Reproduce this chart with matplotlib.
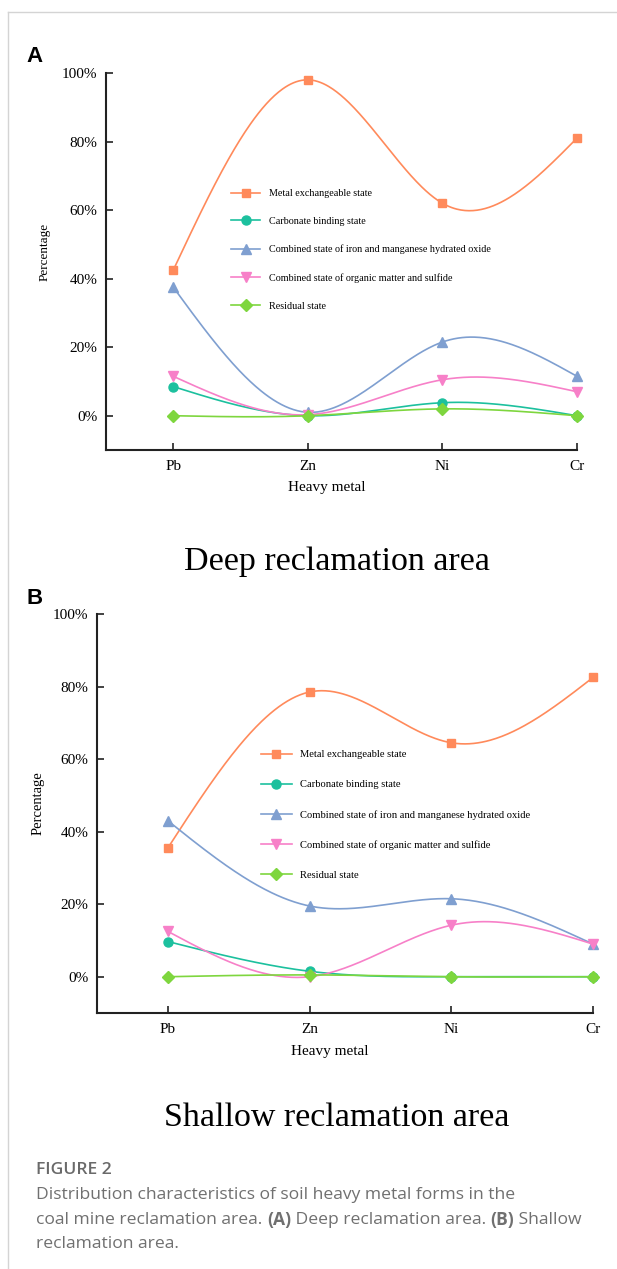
import numpy as np
import matplotlib
matplotlib.use("Agg")
import matplotlib.pyplot as plt
from matplotlib.lines import Line2D

W, H = 617, 1269
DPI = 100

metals = ["Pb", "Zn", "Ni", "Cr"]
series_names = [
    "Metal exchangeable state",
    "Carbonate binding state",
    "Combined state of iron and manganese hydrated oxide",
    "Combined state of organic matter and sulfide",
    "Residual state",
]
# Panel A: Deep reclamation area (percent)
deep_exchangeable = [42.5, 98.0, 62.0, 81.0]
deep_carbonate = [8.5, 0.0, 3.8, 0.0]
deep_femn = [37.5, 1.0, 21.5, 11.5]
deep_organic = [11.5, 0.3, 10.5, 7.0]
deep_residual = [0.0, 0.0, 2.0, 0.0]
# Panel B: Shallow reclamation area (percent)
shallow_exchangeable = [35.5, 78.5, 64.5, 82.5]
shallow_carbonate = [9.7, 1.5, 0.0, 0.0]
shallow_femn = [43.0, 19.5, 21.5, 9.0]
shallow_organic = [12.5, 0.0, 14.2, 9.0]
shallow_residual = [0.0, 0.5, 0.0, 0.0]

y_ticks = [0, 20, 40, 60, 80, 100]
y_tick_labels = ["0%", "20%", "40%", "60%", "80%", "100%"]

colors = ["#FF8A5B", "#1CC09E", "#7F9FD0", "#F780C8", "#7ED63E"]
markers = ["s", "o", "^", "v", "D"]
msizes = [6, 6.5, 7, 7, 6]


def natural_spline(xs, ys, n=300):
    xs = np.asarray(xs, float)
    ys = np.asarray(ys, float)
    k = len(xs)
    h = np.diff(xs)
    A = np.zeros((k, k))
    b = np.zeros(k)
    A[0, 0] = 1
    A[-1, -1] = 1
    for i in range(1, k - 1):
        A[i, i - 1] = h[i - 1]
        A[i, i] = 2 * (h[i - 1] + h[i])
        A[i, i + 1] = h[i]
        b[i] = 6 * ((ys[i + 1] - ys[i]) / h[i] - (ys[i] - ys[i - 1]) / h[i - 1])
    M = np.linalg.solve(A, b)
    xx = np.linspace(xs[0], xs[-1], n)
    yy = np.empty_like(xx)
    for j, x in enumerate(xx):
        i = min(np.searchsorted(xs, x, side="right") - 1, k - 2)
        t1 = xs[i + 1] - x
        t0 = x - xs[i]
        yy[j] = (M[i] * t1 ** 3 / (6 * h[i]) + M[i + 1] * t0 ** 3 / (6 * h[i])
                 + (ys[i] / h[i] - M[i] * h[i] / 6) * t1
                 + (ys[i + 1] / h[i] - M[i + 1] * h[i] / 6) * t0)
    return xx, yy


plt.rcParams["font.family"] = ["Liberation Serif", "DejaVu Serif"]
fig = plt.figure(figsize=(W / DPI, H / DPI), dpi=DPI)


def fx(px):
    return px / W


def fy(py):
    return 1 - py / H


# page frame lines
fig.add_artist(Line2D([fx(8), 1], [fy(12), fy(12)], transform=fig.transFigure,
                      color="#d4d4d4", lw=1))
fig.add_artist(Line2D([fx(8), fx(8)], [fy(12), 0], transform=fig.transFigure,
                      color="#d4d4d4", lw=1))


def make_panel(rect, data, legend_xy, leg_spacing, leg_size, ylab_x, xlab_y, ylab_size):
    l, r, t, b = rect
    ax = fig.add_axes([fx(l), fy(b), fx(r) - fx(l), fy(t) - fy(b)])
    xpos = np.arange(len(metals)) + 0.5
    handles = []
    for vals, c, m, ms, name in zip(data, colors, markers, msizes, series_names):
        xx, yy = natural_spline(xpos, vals)
        ax.plot(xx, yy, color=c, lw=1.2, zorder=2)
        ax.plot(xpos, vals, ls="none", marker=m, color=c, ms=ms, mec=c, zorder=3,
                clip_on=False)
        handles.append(Line2D([], [], color=c, lw=1.2, marker=m, ms=ms, mec=c))
    ax.set_xlim(0, 3.5)
    ax.set_ylim(-10, 100)
    ax.set_xticks(xpos)
    ax.set_xticklabels(metals, fontsize=11)
    ax.set_yticks(y_ticks)
    ax.set_yticklabels(y_tick_labels, fontsize=11)
    ax.tick_params(direction="in", length=5, width=1.2, color="#222222", pad=6)
    ax.tick_params(axis="x", pad=7)
    for s in ["top", "right"]:
        ax.spines[s].set_visible(False)
    for s in ["left", "bottom"]:
        ax.spines[s].set_linewidth(1.5)
        ax.spines[s].set_color("#222222")
    ax.set_facecolor("none")
    fig.text(fx((l + r) / 2 - 15), fy(xlab_y), "Heavy metal", fontsize=11,
             ha="center", va="center")
    fig.text(fx(ylab_x), fy((t + b) / 2 - 10), "Percentage", fontsize=ylab_size,
             rotation=90, ha="center", va="center")
    ax.legend(handles, series_names, loc="upper left",
              bbox_to_anchor=(fx(legend_xy[0]), fy(legend_xy[1])),
              bbox_transform=fig.transFigure, frameon=False, fontsize=leg_size,
              handlelength=2.9, handletextpad=0.8, labelspacing=leg_spacing,
              borderpad=0, borderaxespad=0)
    return ax


deep_data = [deep_exchangeable, deep_carbonate, deep_femn, deep_organic, deep_residual]
shallow_data = [shallow_exchangeable, shallow_carbonate, shallow_femn, shallow_organic,
                shallow_residual]

make_panel((106, 577, 73, 450), deep_data, (231, 189), 1.85, 7.3, 45, 487, 9.5)
make_panel((97, 593, 614, 1013), shallow_data, (261, 750), 1.95, 7.6, 38, 1052, 10.5)

fig.text(fx(26), fy(57), "A", fontsize=16, fontweight="bold",
         family=["Liberation Sans"], ha="left", va="center")
fig.text(fx(26), fy(598), "B", fontsize=16, fontweight="bold",
         family=["Liberation Sans"], ha="left", va="center")

fig.text(fx(337), fy(562), "Deep reclamation area", fontsize=24.5,
         ha="center", va="center")
fig.text(fx(337), fy(1118), "Shallow reclamation area", fontsize=24.5,
         ha="center", va="center")

# figure caption
cap_font = ["Open Sans", "DejaVu Sans"]
cap_size = 12.6
fig.text(fx(36), fy(1170), "FIGURE 2", fontsize=cap_size, color="#6a6a6a",
         family=cap_font, fontweight="semibold", ha="left", va="center")
fig.text(fx(36), fy(1195),
         "Distribution characteristics of soil heavy metal forms in the",
         fontsize=cap_size, color="#707070", family=cap_font, ha="left", va="center")

renderer = fig.canvas.get_renderer()
pieces = [("coal mine reclamation area. ", "normal"), ("(A)", "bold"),
          (" Deep reclamation area. ", "normal"), ("(B)", "bold"),
          (" Shallow", "normal")]
xcur = 36
for txt, wt in pieces:
    tt = fig.text(fx(xcur), fy(1220), txt, fontsize=cap_size, color="#707070",
                  family=cap_font, fontweight=wt, ha="left", va="center")
    bb = tt.get_window_extent(renderer)
    xcur += bb.width
fig.text(fx(36), fy(1244), "reclamation area.", fontsize=cap_size, color="#707070",
         family=cap_font, ha="left", va="center")

fig.savefig("out.png", dpi=DPI)
